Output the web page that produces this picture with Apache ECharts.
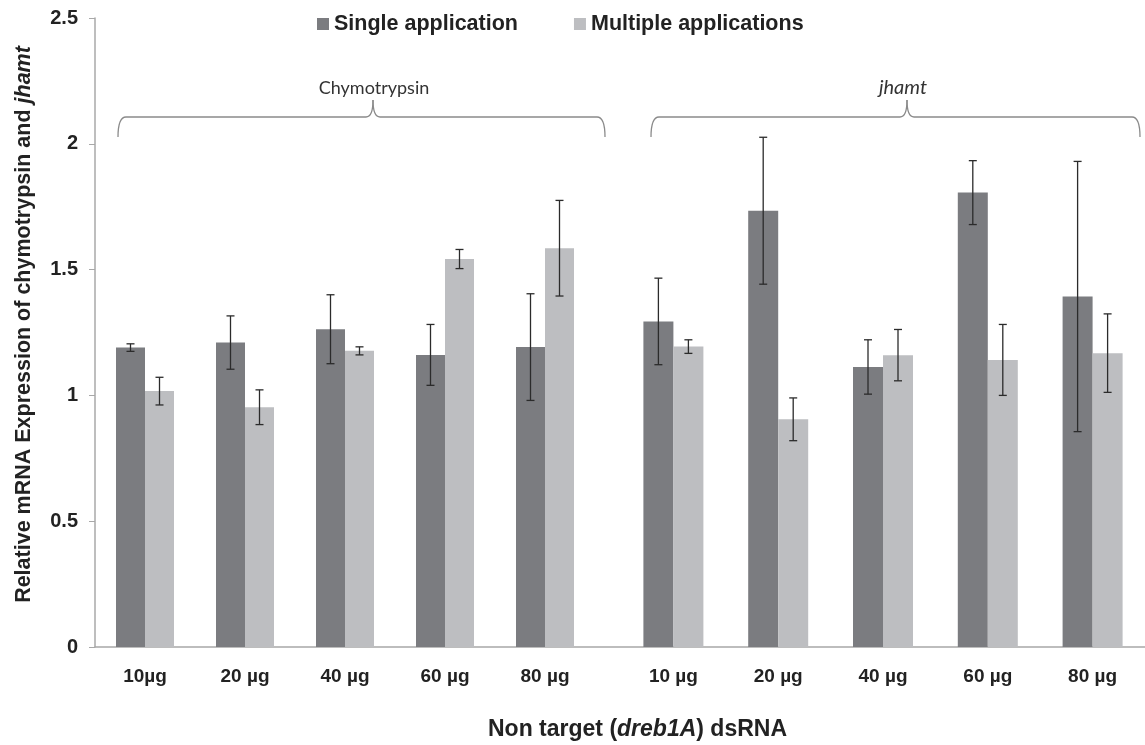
<!DOCTYPE html>
<html>
<head>
<meta charset="utf-8">
<script src="https://cdn.jsdelivr.net/npm/echarts@6/dist/echarts.min.js"></script>
<style>
html,body{margin:0;padding:0;background:#fff;}
#chart{width:1145px;height:745px;}
</style>
</head>
<body>
<div id="chart"></div>
<script>
// ---- data ----
const chymoCategories = ['10µg', '20 µg', '40 µg', '60 µg', '80 µg'];
const jhamtCategories = ['10 µg', '20 µg', '40 µg', '60 µg', '80 µg'];
const seriesNames = ['Single application', 'Multiple applications'];

const chymoSingle = [1.19, 1.21, 1.263, 1.161, 1.192];
const chymoSingleErr = [0.015, 0.106, 0.137, 0.121, 0.212];
const chymoMultiple = [1.017, 0.953, 1.177, 1.542, 1.585];
const chymoMultipleErr = [0.055, 0.069, 0.016, 0.038, 0.19];

const jhamtSingle = [1.294, 1.734, 1.113, 1.806, 1.393];
const jhamtSingleErr = [0.172, 0.292, 0.108, 0.127, 0.537];
const jhamtMultiple = [1.194, 0.905, 1.16, 1.141, 1.168];
const jhamtMultipleErr = [0.027, 0.085, 0.102, 0.141, 0.156];

const yMin = 0, yMax = 2.5, yInterval = 0.5;
const groupLabels = ['Chymotrypsin', 'jhamt'];

// ---- style ----
const darkColor = '#7b7c80';
const lightColor = '#bdbec1';
const axisGray = '#a8a8a8';
const textColor = '#222';
const barW = 29;
const fontBold = '"Liberation Sans", Arial, sans-serif';

function errData(vals, errs) {
  return vals.map((v, i) => [i, v - errs[i], v + errs[i]]);
}
function errRender(offset) {
  return function (params, api) {
    const i = api.value(0);
    const lo = api.coord([i, api.value(1)]);
    const hi = api.coord([i, api.value(2)]);
    const x = lo[0] + offset;
    const st = { stroke: '#2b2b2b', lineWidth: 1.3 };
    return {
      type: 'group',
      children: [
        { type: 'line', shape: { x1: x, y1: hi[1], x2: x, y2: lo[1] }, style: st },
        { type: 'line', shape: { x1: x - 4, y1: hi[1], x2: x + 4, y2: hi[1] }, style: st },
        { type: 'line', shape: { x1: x - 4, y1: lo[1], x2: x + 4, y2: lo[1] }, style: st }
      ]
    };
  };
}

const gridTop = 18, gridBottom = 98;
const hiddenY = (gi) => ({
  type: 'value', gridIndex: gi, min: yMin, max: yMax, interval: yInterval,
  show: false, splitLine: { show: false }
});
const catAxis = (gi, data) => ({
  type: 'category', gridIndex: gi, data: data,
  axisLine: { show: false }, axisTick: { show: false },
  axisLabel: { color: textColor, fontWeight: 'bold', fontSize: 19, fontFamily: fontBold, margin: 20 }
});

function brace(x0, x1, xm, yLine, yEnd, yTip) {
  const st = { stroke: '#8a8a8a', lineWidth: 1.3, fill: null };
  const q = (a, b, c, d, cx, cy) => ({ type: 'bezierCurve', shape: { x1: a, y1: b, x2: c, y2: d, cpx1: cx, cpy1: cy }, style: st });
  const l = (a, b, c, d) => ({ type: 'line', shape: { x1: a, y1: b, x2: c, y2: d }, style: st });
  return {
    type: 'group',
    children: [
      q(x0, yEnd, x0 + 8, yLine, x0, yLine),
      l(x0 + 8, yLine, xm - 7, yLine),
      q(xm - 7, yLine, xm, yTip, xm, yLine),
      q(xm, yTip, xm + 7, yLine, xm, yLine),
      l(xm + 7, yLine, x1 - 8, yLine),
      q(x1 - 8, yLine, x1, yEnd, x1, yLine)
    ]
  };
}

const chart = echarts.init(document.getElementById('chart'), null, { renderer: 'canvas' });
chart.setOption({
  backgroundColor: '#fff',
  animation: false,
  color: [darkColor, lightColor],
  legend: {
    data: seriesNames,
    top: 8, left: 312,
    icon: 'rect', itemWidth: 12, itemHeight: 12, itemGap: 56,
    textStyle: { fontSize: 21.5, fontWeight: 'bold', color: textColor, fontFamily: fontBold }
  },
  title: {
    text: '{b|Non target (}{bi|dreb1A}{b|) dsRNA}',
    left: 483, top: 713,
    textStyle: {
      rich: {
        b: { fontSize: 23, fontWeight: 'bold', color: textColor, fontFamily: fontBold },
        bi: { fontSize: 23, fontWeight: 'bold', fontStyle: 'italic', color: textColor, fontFamily: fontBold }
      }
    }
  },
  grid: [
    { left: 95, right: 0, top: gridTop, bottom: gridBottom },
    { left: 95, width: 500, top: gridTop, bottom: gridBottom },
    { left: 621, width: 524, top: gridTop, bottom: gridBottom }
  ],
  xAxis: [
    { type: 'category', gridIndex: 0, data: [''], axisLine: { show: true, lineStyle: { color: axisGray, width: 1.5 } },
      axisTick: { show: false }, axisLabel: { show: false } },
    catAxis(1, chymoCategories),
    catAxis(2, jhamtCategories)
  ],
  yAxis: [
    {
      type: 'value', gridIndex: 0, min: yMin, max: yMax, interval: yInterval,
      splitLine: { show: false },
      axisLine: { show: true, lineStyle: { color: axisGray, width: 1.5 } },
      axisTick: { show: true, length: 6, lineStyle: { color: axisGray } },
      axisLabel: { color: textColor, fontWeight: 'bold', fontSize: 20, fontFamily: fontBold, margin: 17 },
      name: '{b|Relative mRNA Expression of chymotrypsin and }{bi|jhamt}',
      nameLocation: 'middle', nameGap: 60, nameRotate: 90,
      nameTextStyle: {
        padding: [0, 0, 0, 16],
        rich: {
          b: { fontSize: 21.5, fontWeight: 'bold', color: textColor, fontFamily: fontBold },
          bi: { fontSize: 21.5, fontWeight: 'bold', fontStyle: 'italic', color: textColor, fontFamily: fontBold }
        }
      }
    },
    hiddenY(1),
    hiddenY(2)
  ],
  series: [
    { name: seriesNames[0], type: 'bar', xAxisIndex: 1, yAxisIndex: 1, data: chymoSingle, barWidth: barW, barGap: '0%', itemStyle: { color: darkColor } },
    { name: seriesNames[1], type: 'bar', xAxisIndex: 1, yAxisIndex: 1, data: chymoMultiple, barWidth: barW, barGap: '0%', itemStyle: { color: lightColor } },
    { name: seriesNames[0], type: 'bar', xAxisIndex: 2, yAxisIndex: 2, data: jhamtSingle, barWidth: barW + 1, barGap: '0%', itemStyle: { color: darkColor } },
    { name: seriesNames[1], type: 'bar', xAxisIndex: 2, yAxisIndex: 2, data: jhamtMultiple, barWidth: barW + 1, barGap: '0%', itemStyle: { color: lightColor } },
    { type: 'custom', xAxisIndex: 1, yAxisIndex: 1, renderItem: errRender(-barW / 2), data: errData(chymoSingle, chymoSingleErr), z: 10, silent: true },
    { type: 'custom', xAxisIndex: 1, yAxisIndex: 1, renderItem: errRender(barW / 2), data: errData(chymoMultiple, chymoMultipleErr), z: 10, silent: true },
    { type: 'custom', xAxisIndex: 2, yAxisIndex: 2, renderItem: errRender(-(barW + 1) / 2), data: errData(jhamtSingle, jhamtSingleErr), z: 10, silent: true },
    { type: 'custom', xAxisIndex: 2, yAxisIndex: 2, renderItem: errRender((barW + 1) / 2), data: errData(jhamtMultiple, jhamtMultipleErr), z: 10, silent: true }
  ],
  graphic: [
    brace(118, 605, 373, 117, 137, 100),
    brace(651, 1140, 907, 117, 137, 100),
    { type: 'text', x: 374, y: 88, style: { text: groupLabels[0], fontSize: 18, fontFamily: 'Lato, "Open Sans", sans-serif', fill: '#333', align: 'center', verticalAlign: 'middle' } },
    { type: 'text', x: 903, y: 88, style: { text: groupLabels[1], fontSize: 20, fontStyle: 'italic', fontFamily: 'Lato, "Open Sans", sans-serif', fill: '#333', align: 'center', verticalAlign: 'middle' } }
  ]
});
</script>
</body>
</html>
